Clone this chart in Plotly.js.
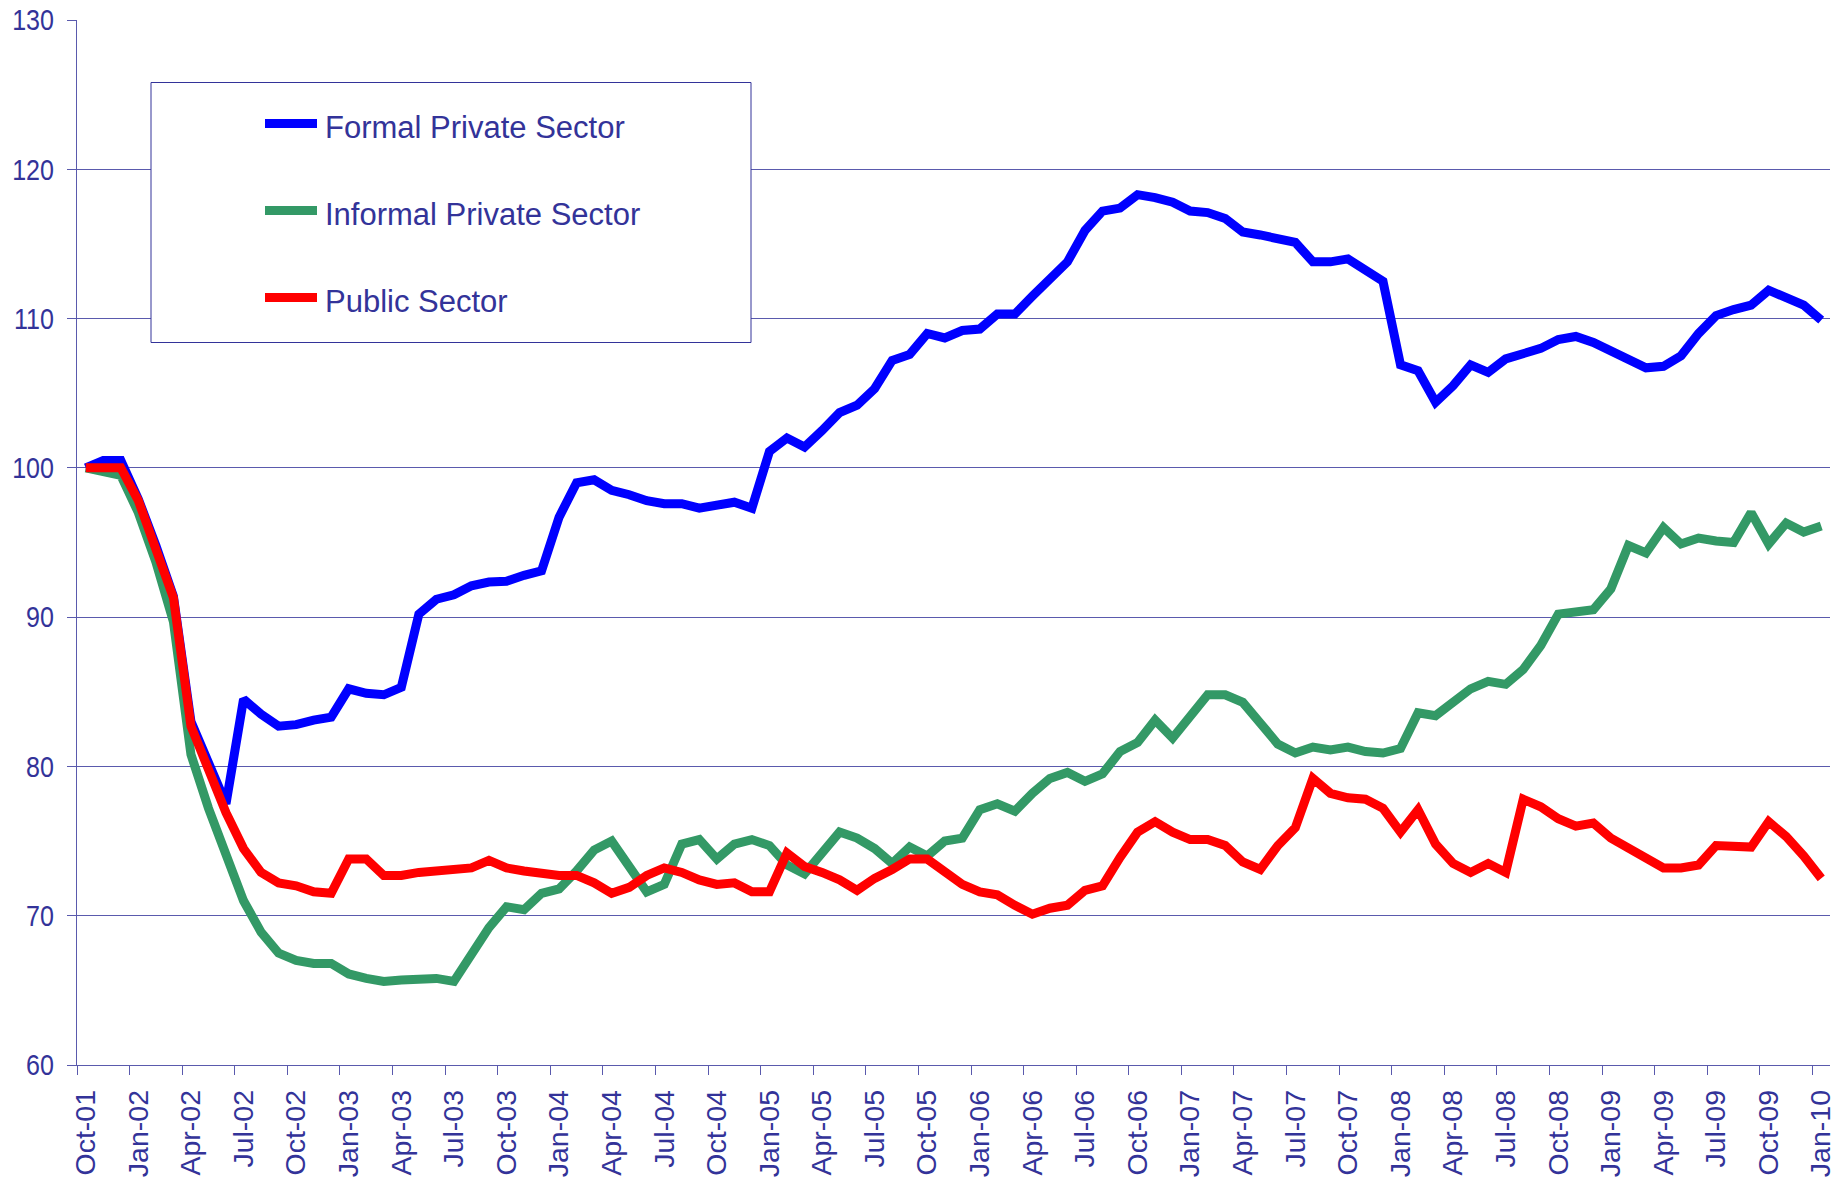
<!DOCTYPE html>
<html>
<head>
<meta charset="utf-8">
<script src="https://cdn.plot.ly/plotly-3.0.1.min.js"></script>
<style>
  html, body { margin: 0; padding: 0; background: #ffffff; }
  #chart { width: 1847px; height: 1183px; }
</style>
</head>
<body>
<div id="chart"></div>
<script>
// ---- data (monthly index, Oct-01 = 100) ----
var seriesNames = ['Formal Private Sector', 'Informal Private Sector', 'Public Sector'];

var formalPrivate = [
  100.0, 100.5, 100.5, 97.9, 94.8, 91.4, 83.0, 80.2, 77.5, 84.5,
  83.5, 82.7, 82.8, 83.1, 83.3, 85.2, 84.9, 84.8, 85.3, 90.2,
  91.2, 91.5, 92.1, 92.35, 92.4, 92.8, 93.1, 96.7, 99.0, 99.2,
  98.5, 98.2, 97.8, 97.6, 97.6, 97.3, 97.5, 97.7, 97.3, 101.1,
  102.0, 101.4, 102.5, 103.7, 104.2, 105.3, 107.2, 107.6, 109.0, 108.7,
  109.2, 109.3, 110.3, 110.3, 111.5, 112.7, 113.8, 115.9, 117.2, 117.4,
  118.3, 118.1, 117.8, 117.2, 117.1, 116.7, 115.8, 115.6, 115.3, 115.1,
  113.8, 113.8, 114.0, 113.3, 112.5, 106.9, 106.5, 104.4, 105.5, 106.9,
  106.4, 107.3, 107.6, 108.0, 108.6, 108.8, 108.4, 107.8, 107.3, 106.7,
  106.8, 107.5, 109.0, 110.2, 110.6, 110.9, 111.9, 111.4, 110.9, 109.9
];

var informalPrivate = [
  100.0, 99.8, 99.5, 97.0, 93.7, 89.7, 80.8, 77.2, 73.9, 71.0,
  68.9, 67.5, 67.0, 66.8, 66.8, 66.1, 65.8, 65.6, 65.7, 65.8,
  65.8, 65.6, 67.4, 69.2, 70.6, 70.4, 71.5, 71.8, 73.0, 74.4,
  75.0, 73.4, 71.6, 72.1, 74.8, 75.1, 73.8, 74.8, 75.1, 74.7,
  73.4, 72.8, 74.3, 75.6, 75.2, 74.5, 73.5, 74.6, 74.0, 75.0,
  75.2, 77.1, 77.5, 77.0, 78.2, 79.2, 79.6, 79.0, 79.5, 81.0,
  81.6, 83.1, 81.9, 83.4, 84.8, 84.8, 84.3, 82.9, 81.5, 80.9,
  81.3, 81.1, 81.3, 81.0, 80.9, 81.2, 83.6, 83.4, 84.3, 85.2,
  85.7, 85.5, 86.5, 88.1, 90.2, 90.4, 90.5, 91.9, 94.8, 94.3,
  96.0, 94.9, 95.3, 95.1, 95.0, 97.0, 94.9, 96.3, 95.7, 96.1
];

var publicSector = [
  100.0, 100.0, 100.0, 97.8, 94.7, 91.3, 82.7, 79.6, 76.9, 74.5,
  72.9, 72.2, 72.0, 71.6, 71.5, 73.8, 73.8, 72.7, 72.7, 72.9,
  73.0, 73.2, 73.2, 73.7, 73.2, 73.0, 72.8, 72.7, 72.7, 72.2,
  71.5, 71.9, 72.7, 73.2, 72.9, 72.4, 72.1, 72.2, 71.6, 71.6,
  74.2, 73.3, 72.9, 72.4, 71.7, 72.5, 73.1, 73.8, 73.8, 72.9,
  72.1, 71.6, 71.4, 70.7, 70.1, 70.5, 70.7, 71.7, 72.0, 73.9,
  75.6, 76.3, 75.6, 75.1, 75.1, 74.7, 73.6, 73.1, 74.7, 75.9,
  79.2, 78.2, 77.9, 77.8, 77.2, 75.6, 77.1, 74.8, 73.5, 72.9,
  73.5, 72.9, 77.8, 77.3, 76.5, 76.0, 76.2, 75.2, 74.5, 73.9,
  73.2, 73.2, 73.4, 74.7, 74.6, 74.6, 76.3, 75.3, 74.0, 72.5
];

// quarterly tick labels (every third month starting Oct-01)
var tickLabels = [
  'Oct-01','Jan-02','Apr-02','Jul-02','Oct-02','Jan-03','Apr-03','Jul-03',
  'Oct-03','Jan-04','Apr-04','Jul-04','Oct-04','Jan-05','Apr-05','Jul-05',
  'Oct-05','Jan-06','Apr-06','Jul-06','Oct-06','Jan-07','Apr-07','Jul-07',
  'Oct-07','Jan-08','Apr-08','Jul-08','Oct-08','Jan-09','Apr-09','Jul-09',
  'Oct-09','Jan-10'
];
var yTicks = [60, 70, 80, 90, 100, 110, 120, 130];

// ---- styling ----
var colors = ['#0000FF', '#339966', '#FF0000'];
var navy = '#333399';
var gridColor = '#5a5aad';
var W = 1847, H = 1183;
var M = {l: 77, r: 17, t: 20, b: 118};
var plotW = W - M.l - M.r, plotH = H - M.t - M.b;
function px(x) { return (x - M.l) / plotW; }
function py(y) { return (H - M.b - y) / plotH; }

var xIdx = formalPrivate.map(function (_, i) { return i; });
var allSeries = [formalPrivate, informalPrivate, publicSector];
var xRange = [-0.5, formalPrivate.length - 0.5];

var traces = allSeries.map(function (ys, k) {
  return {
    type: 'scatter', mode: 'lines', name: seriesNames[k],
    x: xIdx, y: ys, xaxis: 'x', yaxis: 'y',
    line: {color: colors[k], width: 9, shape: 'linear'},
    hoverinfo: 'x+y+name'
  };
});
// empty helper trace so the boundary-tick axis is drawn
traces.push({type: 'scatter', mode: 'lines', x: [], y: [], xaxis: 'x2', yaxis: 'y',
  showlegend: false, hoverinfo: 'skip'});

var labelPos = tickLabels.map(function (_, k) { return 3 * k; });       // category centres
var boundaryPos = tickLabels.map(function (_, k) { return 3 * k - 0.5; }); // category boundaries

// manual legend (box, swatches, text)
var legendRows = [123.5, 210.5, 297.5];
var shapes = [{
  type: 'rect', xref: 'paper', yref: 'paper', layer: 'above',
  x0: px(151), x1: px(751), y0: py(342.5), y1: py(82.5),
  line: {color: navy, width: 1}, fillcolor: '#ffffff'
}];
var annotations = [];
legendRows.forEach(function (yy, k) {
  shapes.push({
    type: 'line', xref: 'paper', yref: 'paper', layer: 'above',
    x0: px(265), x1: px(317), y0: py(yy), y1: py(yy),
    line: {color: colors[k], width: 9}
  });
  annotations.push({
    xref: 'paper', yref: 'paper', x: px(323), y: py(yy + 4),
    xanchor: 'left', yanchor: 'middle', showarrow: false,
    text: seriesNames[k],
    font: {family: 'Liberation Sans, Arial, sans-serif', size: 31, color: navy}
  });
});

var layout = {
  width: W, height: H,
  margin: M,
  paper_bgcolor: '#ffffff', plot_bgcolor: '#ffffff',
  showlegend: false,
  xaxis: {
    type: 'linear', range: xRange, autorange: false,
    tickmode: 'array', tickvals: labelPos, ticktext: tickLabels,
    ticks: 'outside', ticklen: 9, tickwidth: 1, tickcolor: 'rgba(0,0,0,0)',
    tickangle: -90,
    tickfont: {family: 'Liberation Sans, Arial, sans-serif', size: 28.5, color: navy},
    showgrid: false, zeroline: false,
    showline: true, linecolor: gridColor, linewidth: 1
  },
  xaxis2: {
    type: 'linear', range: xRange, autorange: false,
    overlaying: 'x', anchor: 'y', side: 'bottom',
    tickmode: 'array', tickvals: boundaryPos,
    ticks: 'outside', ticklen: 9, tickwidth: 1, tickcolor: gridColor,
    showticklabels: false, showgrid: false, zeroline: false, showline: false
  },
  yaxis: {
    range: [60, 130], autorange: false, tickmode: 'array', tickvals: yTicks,
    ticks: 'outside', ticklen: 9, tickwidth: 1, tickcolor: gridColor,
    tickfont: {family: 'Liberation Sans, Arial, sans-serif', size: 29.5, color: navy},
    showgrid: true, gridcolor: gridColor, gridwidth: 1,
    zeroline: false, showline: true, linecolor: gridColor, linewidth: 1
  },
  shapes: shapes,
  annotations: annotations
};

Plotly.newPlot('chart', traces, layout, {displayModeBar: false, staticPlot: true}).then(function (gd) {
  // the original y labels are set in a narrow face: condense them horizontally,
  // keeping them right-aligned 23px left of the axis line
  var targetRight = M.l - 23;
  gd.querySelectorAll('.ytick text').forEach(function (t) {
    var bb = t.getBBox();
    var r = t.getBoundingClientRect();
    var R = bb.x + bb.width;
    var dx = targetRight - r.right;
    var tr = t.getAttribute('transform') || '';
    t.setAttribute('transform', tr + ' translate(' + (R + dx) + ',0) scale(0.85,1) translate(' + (-R) + ',0)');
  });
  // the rotated month labels start about 26px below the axis line
  var targetTop = H - M.b + 25;
  gd.querySelectorAll('.xtick text').forEach(function (t) {
    var r = t.getBoundingClientRect();
    var dy = targetTop - r.top;
    var tr = t.getAttribute('transform') || '';
    t.setAttribute('transform', 'translate(0,' + dy + ') ' + tr);
  });
});
</script>
</body>
</html>
